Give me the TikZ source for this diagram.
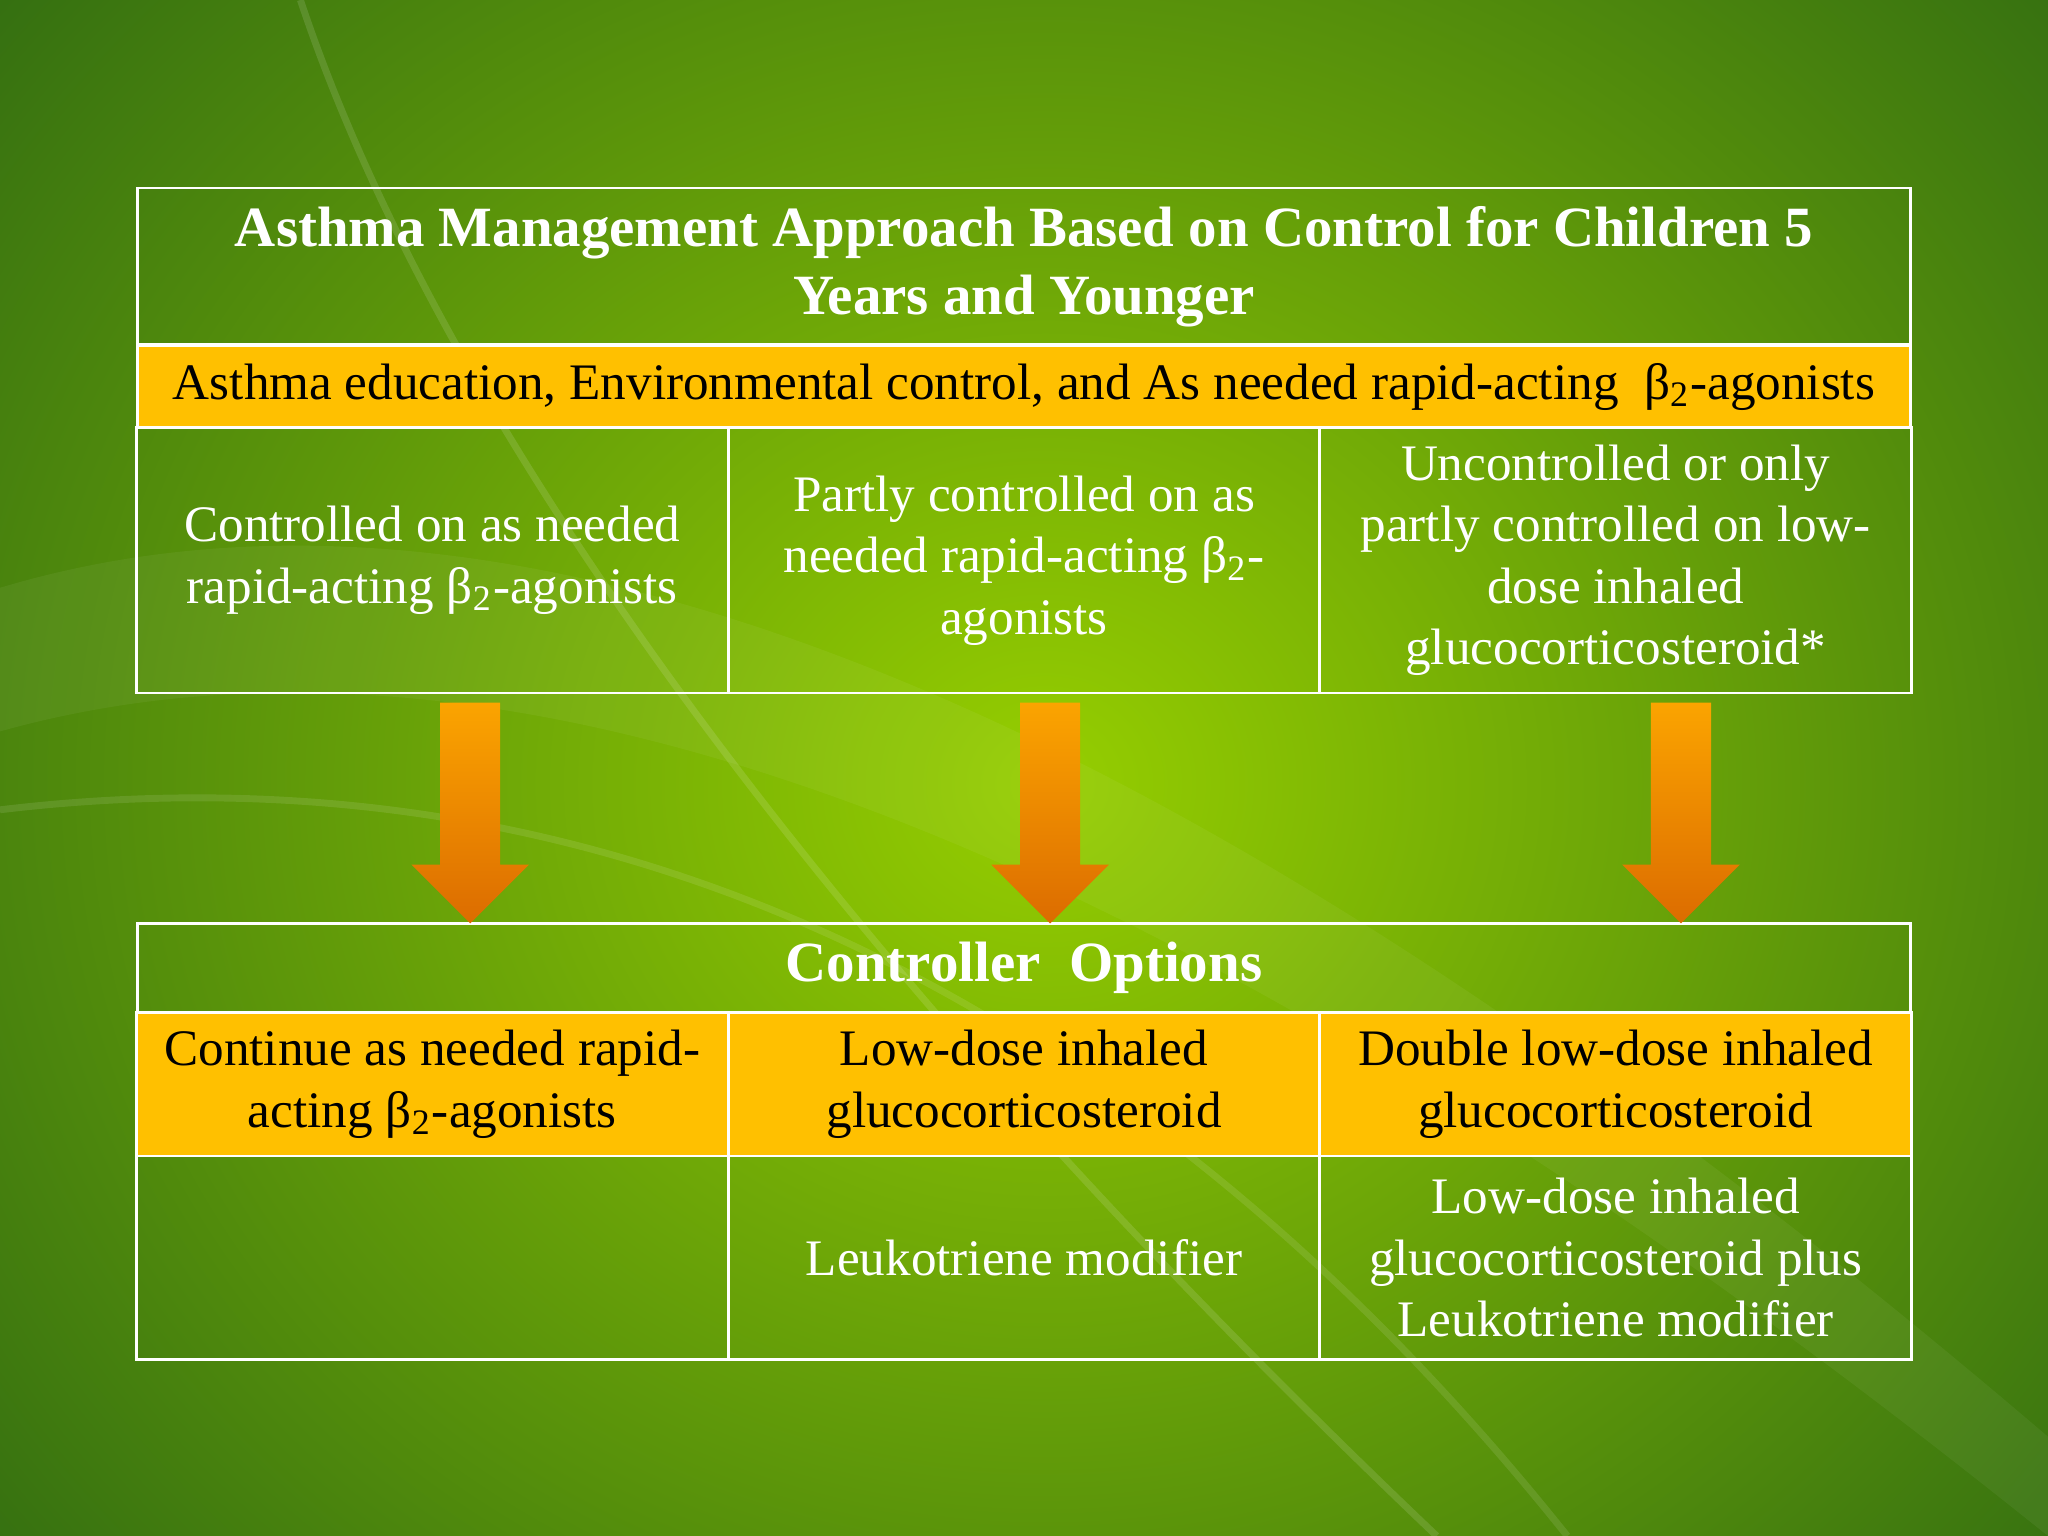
\documentclass[tikz,border=0pt]{standalone}
\usepackage{fontspec}
\setmainfont{Liberation Serif}
\begin{document}
\begin{tikzpicture}[x=0.1mm,y=-0.1mm,
  cell/.style={draw=white,line width=0.6pt,minimum width=453*0.1mm,inner sep=0pt,align=center,text=white,font=\fontsize{11.15}{13.4}\selectfont},
  yel/.style={fill=yellowc,text=black},
  arr/.style={top color=arrtop,bottom color=arrbot,draw=none}]
\definecolor{yellowc}{HTML}{FFC000}
\definecolor{arrtop}{HTML}{FBA400}
\definecolor{arrbot}{HTML}{DC6C00}
\definecolor{gin}{HTML}{96CE00}
\definecolor{gout}{HTML}{2F6A12}
\useasboundingbox (0,0) rectangle (1568,1176);
\shade[inner color=gin,outer color=gout] (-300,-400) rectangle (1900,1600);
\fill[white,opacity=0.05] (0,450) .. controls (500,300) and (1100,700) .. (1568,1100) -- (1568,1176) .. controls (1100,800) and (500,420) .. (0,560) -- cycle;
\draw[white,opacity=0.12,line width=1.5pt] (230,0) .. controls (330,300) and (600,700) .. (1100,1176);
\draw[white,opacity=0.1,line width=1.5pt] (0,620) .. controls (500,560) and (900,800) .. (1200,1176);
% top table
\node[cell,minimum width=1358*0.1mm,minimum height=120*0.1mm,font=\bfseries\fontsize{12.4}{14.8}\selectfont] (title) at (784,204) {Asthma Management Approach Based on Control for Children 5\\Years and Younger};
\node[cell,yel,minimum width=1358*0.1mm,minimum height=63*0.1mm] (edu) at (784,296) {Asthma education, Environmental control, and As needed rapid-acting~ β\textsubscript{2}-agonists};
\node[cell,minimum height=203*0.1mm] (c1) at (331,429) {Controlled on as needed\\rapid-acting β\textsubscript{2}-agonists};
\node[cell,minimum height=203*0.1mm] (c2) at (784,429) {Partly controlled on as\\needed rapid-acting β\textsubscript{2}-\\agonists};
\node[cell,minimum height=203*0.1mm] (c3) at (1237,429) {Uncontrolled or only\\partly controlled on low-\\dose inhaled\\glucocorticosteroid*};
% bottom table
\node[cell,minimum width=1358*0.1mm,minimum height=68*0.1mm,font=\bfseries\fontsize{12.4}{14.8}\selectfont] (opt) at (784,741) {Controller~ Options};
\node[cell,yel,minimum height=110*0.1mm] (o1) at (331,830) {Continue as needed rapid-\\acting β\textsubscript{2}-agonists};
\node[cell,yel,minimum height=110*0.1mm] (o2) at (784,830) {Low-dose inhaled\\glucocorticosteroid};
\node[cell,yel,minimum height=110*0.1mm] (o3) at (1237,830) {Double low-dose inhaled\\glucocorticosteroid};
\node[cell,minimum height=156*0.1mm] (p1) at (331,963) {};
\node[cell,minimum height=156*0.1mm] (p2) at (784,963) {Leukotriene modifier};
\node[cell,minimum height=156*0.1mm] (p3) at (1237,963) {Low-dose inhaled\\glucocorticosteroid plus\\Leukotriene modifier};
% arrows
\foreach \n/\cx in {a1/360,a2/804,a3/1287}{
  \shade[arr] (\cx-23,538) -- (\cx+23,538) -- (\cx+23,662) -- (\cx+45,662) -- (\cx,707) -- (\cx-45,662) -- (\cx-23,662) -- cycle;
}
\end{tikzpicture}
\end{document}
